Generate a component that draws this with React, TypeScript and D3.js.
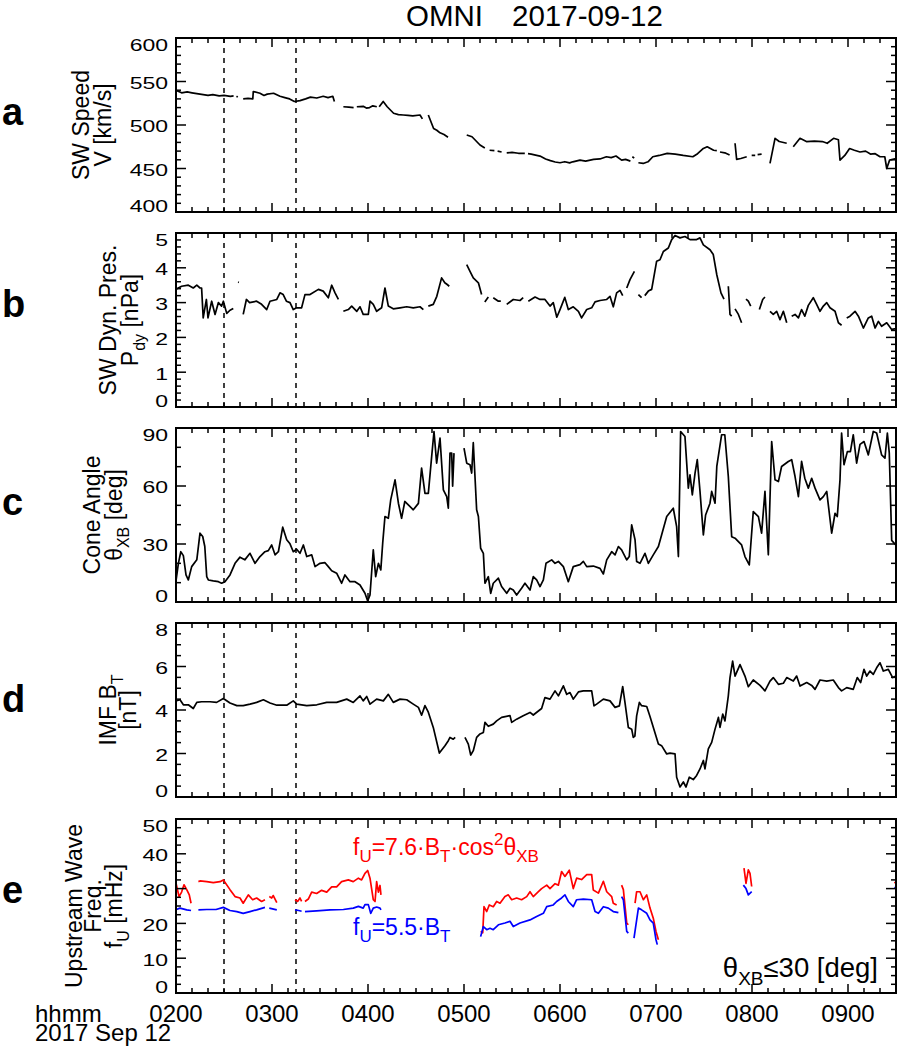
import React from "react";
import * as d3 from "d3";

type Pt = [number, number] | null;

const FONT = "'Liberation Sans', Arial, Helvetica, sans-serif";

// time in minutes since 00:00 UT, 2017-09-12
const TIME_DOMAIN: [number, number] = [120, 570];
const HOUR_TICKS = [120, 180, 240, 300, 360, 420, 480, 540];
const EVENT_TIMES = [150, 195];

// a: SW speed [km/s]
const speedData: Pt[] = [
  [120, 540], [123.5, 537], [127, 538], [130, 537], [135, 535.5], [140, 534], [143, 535], [147, 533.5], [150, 534], [154, 533], [156, 533.5], null,
  [157.8, 533], [158.6, 532], null,
  [162, 530], [165, 530.5], [168, 530], [168.3, 538.5], [172.5, 536.5], [175, 534], [177, 535.5], [181, 536.5], [185, 533], [188, 531.5], [191, 530], [194, 527], [197.5, 528], [201, 530], [204, 532], [208, 531], [212, 533], [215, 531.5], [218, 533], [219, 527], null,
  [224.6, 521], [228, 520.5], [231, 520], null, [233, 521], [237, 521.5], [239, 519.5], [241, 520], [243, 522], [245.5, 521], null, [247, 521], [249.5, 527], [252, 521], [256, 513.5], [259, 512], [262, 511.5], [265, 511], [268, 510.5], [272.5, 511.5], [274, 507], null,
  [277.7, 511.5], [281, 496], [283, 494], [285, 491], [287.5, 489], [290, 486], null,
  [301.7, 488.5], [305, 486.5], [310, 477], [313, 473.5], null, [316, 471], [319, 470.5], null, [321, 470], [323.5, 469], null, [326.7, 468], [330, 468.5], [334, 467.5], [338, 467.5], null, [340, 467], [342, 466.5], [347.5, 464.3], [351, 461], [354, 459], [357, 457.5], [360, 456.6], [363, 457.8], [366, 456.5], [368, 457.7], [372.5, 459.6], [376, 458.5], [381, 460.4], [385, 461], [389, 463.5], [392, 462.5], [395, 464.3], [398.5, 459.6], [401, 460.5], [404, 458.5], null,
  [405.2, 463.5], [406.4, 462], null,
  [409, 456.6], [412, 455.8], [415, 457.7], [418, 463.5], [422, 465], [427, 467.4], [432, 466.5], [437, 465], [443, 463.5], [446, 467], [449.6, 473], [452, 475], [456, 471], [458, 470.5], null, [460, 469], [463, 468], [466, 465.4], null,
  [469.4, 479], [470.4, 460.4], [473, 461.5], [476.7, 463.5], null,
  [479.8, 465], [482, 465], null, [483.5, 466], [486, 466.6], null,
  [491.25, 455.8], [494.4, 484.7], [497, 481], [501.7, 479], null,
  [505.8, 475], [510, 484.7], [514, 481], [519, 481.5], [524, 481], [527, 479], [531, 484.7], [534, 483], [535, 459.6], [538, 465], [541, 473], [544, 471], [547.5, 469], [551, 470], [554, 466.6], [557, 467], [560, 463.5], [563, 463.5], [564.2, 450], [566, 459.6], [570, 461.5],
];

// b: SW dynamic pressure [nPa]
const pdynData: Pt[] = [
  [119.8, 3.38], [123.5, 3.47], [127.7, 3.5], [130.8, 3.42], [133, 3.5], [135, 3.42], [136, 3.42], [137, 2.56], [139, 3.09], [140, 2.56], [142.3, 3.04], [144.4, 2.66], [146.5, 3.0], [148.5, 2.9], [149.6, 3.04], [151.7, 2.69], [153.75, 2.78], [155.8, 2.83], null,
  [158.8, 3.59], [159.3, 3.58], null,
  [162, 2.66], [164, 3.09], [166, 3.0], [170.4, 3.04], [173.5, 2.95], [176.7, 2.8], [178.75, 3.04], [183, 3.09], [185, 3.28], [187, 3.23], [189, 3.04], [191.25, 3.0], [193.3, 2.8], [195.4, 2.85], [198.5, 2.85], [200.6, 3.23], [203.75, 3.23], [209, 3.38], [212, 3.33], [215.2, 3.14], [217.3, 3.5], [219.4, 3.28], [221.5, 3.09], null,
  [224.6, 2.75], [227.7, 2.8], [229.8, 2.9], [233, 2.75], [235, 2.88], [237, 2.66], [240.2, 2.66], [241.25, 3.04], [243.3, 2.95], [245.4, 2.75], [248.5, 2.85], [250.6, 3.42], [252.7, 2.9], [255.8, 2.82], [260, 2.85], [264.2, 2.88], [268.3, 2.85], [272.5, 2.88], [274.6, 2.8], null,
  [277.7, 2.9], [280.8, 2.95], [283, 3.18], [286, 3.71], [288, 3.57], [289.5, 3.52], [290.8, 3.47], null,
  [301.7, 4.09], [303.75, 3.9], [305.8, 3.71], [309, 3.57], [311, 3.23], null,
  [313, 3.02], [315.2, 3.16], null, [318.3, 3.14], [321.5, 3.04], [323, 3.04], null,
  [326.7, 2.95], [330.8, 3.09], [335, 3.06], [337, 3.14], null,
  [340.2, 3.04], [344.4, 3.16], [347.5, 3.09], [350.6, 3.09], [353.75, 2.9], [355.8, 3.0], [358, 2.58], [360, 2.8], [363, 3.15], [365.2, 2.8], [368.3, 2.88], [371.5, 2.75], [373.5, 2.56], [376.7, 2.8], [379.8, 2.85], [381.9, 3.02], [385, 3.06], [389.2, 3.09], [391.25, 3.18], [393.3, 2.88], [395.4, 3.28], [397.5, 3.35], [399.2, 3.2], null,
  [401.7, 3.42], [403.75, 3.66], [406.5, 3.9], null,
  [409, 3.23], [411, 3.14], null,
  [413, 3.2], [415.2, 3.33], [417.3, 3.38], [420.4, 4.19], [422.5, 4.23], [424.6, 4.47], [427.7, 4.57], [429.8, 4.81], [431.9, 4.93], [435, 4.86], [438.1, 4.9], [441.25, 4.81], [445.4, 4.81], [447.5, 4.86], [449.6, 4.66], [453.75, 4.52], [455.8, 4.38], [458, 3.8], [460.6, 3.28], [462.5, 3.1], null,
  [465.2, 3.47], [466.25, 2.66], [467.3, 2.61], null,
  [469.4, 2.82], [471.5, 2.66], [473.5, 2.42], null,
  [476.25, 3.1], [477.7, 3.04], [479.2, 2.9], null,
  [484.6, 2.8], [486.7, 3.09], [488.1, 3.16], null,
  [491.25, 2.75], [493.3, 2.66], [495.4, 2.75], [497.5, 2.51], [499.6, 2.75], [501.7, 2.42], null,
  [504.8, 2.61], [506.9, 2.66], [509, 2.56], [511, 2.8], [513, 2.61], [515.2, 2.92], [518.3, 3.14], [520.4, 2.95], [522.5, 2.75], [524.6, 2.9], [526.7, 3.0], [528.75, 2.85], [531.9, 2.75], [534, 2.42], [536, 2.35], null,
  [539.2, 2.56], [541.25, 2.61], [544.4, 2.75], [546.5, 2.61], [549.6, 2.27], [552.7, 2.56], [554.8, 2.61], [556.9, 2.27], [559, 2.46], [561, 2.32], [564.2, 2.42], [567.3, 2.23], [570, 2.25],
];

// c: cone angle theta_XB [deg]
const coneData: Pt[] = [
  [119.8, 9.7], [121.5, 20], [123, 26], [124.6, 24], [126.25, 14], [127.7, 11.4], [129.8, 18.3], [133, 21.8], [135, 35.6], [136.7, 33.9], [138, 28.7], [139.2, 13.1], [140.2, 11.4], [143.3, 10.9], [146.5, 10.5], [148.5, 9.7], [150.6, 10.5], [153.75, 14], [156.9, 20], [160, 23.2], [163, 21.8], [166.25, 25.2], [169.4, 20], [172.5, 23.5], [175.6, 26], [177.7, 26.6], [179.8, 29.5], [181.9, 24.4], [184, 26], [186.7, 38.7], [189.2, 32.2], [191.25, 30.1], [193.3, 26], [195.4, 27.3], [197.5, 25.2], [199.6, 29.5], [201.7, 23.5], [204.8, 24.4], [206.9, 18.3], [210, 20], [213, 20.4], [215.2, 18.3], [217.3, 16.2], [220.4, 14.9], [223.5, 9.7], [225.6, 14], [228.75, 10.5], [231.9, 10.5], [235, 8.8], [238.1, 4.5], [239.8, 0.5], [241.25, 3.7], [243.3, 27], [244.8, 13.1], [246.5, 20], [248, 16.6], [249.2, 30.6], [250.6, 44.2], [252.7, 43.3], [254.2, 52.8], [256.9, 63.2], [259, 51.1], [261, 43.3], [263, 52], [265.2, 50.2], [268.3, 47.7], [271.5, 51], [273.5, 69.3], [275.6, 56.2], [277.7, 56.2], [279.8, 75.3], [281.25, 88.2], [282.9, 71.8], [285, 84.8], [287.1, 58], [289.2, 54.5], [290.2, 48.5], [291.25, 77], [292.3, 77], [292.9, 59.9], [293.75, 77], null,
  [300, 79.6], [301.7, 71.8], [303.75, 71], [304.8, 66.7], [305.8, 82.4], [307.9, 47.7], [309, 44.2], [310.4, 27.8], [312.1, 25.2], [313.1, 9.7], [315.2, 13.1], [316.7, 4.5], [318.3, 9.7], [321.5, 12.3], [323.5, 8], [326.7, 4.5], [328.75, 7.1], [330.8, 6.2], [332.9, 3.6], [336, 7.1], [338.1, 9.7], [341.25, 6.2], [343.3, 13.1], [345.4, 11.4], [347.5, 8], [349.6, 11.4], [351.25, 20], [354.8, 21.8], [356.9, 20], [359, 21], [362.1, 18.3], [365.2, 10.5], [368.3, 18.3], [372.5, 19.3], [374.6, 21], [376.7, 18.3], [380.8, 18.6], [385, 17.4], [387.1, 14.5], [389.2, 21.8], [392.3, 26], [394.4, 24.4], [396.5, 28.7], [398.5, 27], [401.7, 21.8], [403.3, 23.5], [404.8, 39.9], [406.9, 32.2], [407.9, 21], [410, 20], [413.1, 25.2], [415.2, 20], [418.3, 24.4], [421.5, 28.7], [423.5, 34.7], [426.7, 44.2], [430.8, 48.5], [432.9, 39], [434, 23.5], [435.4, 88.2], [438.1, 85.6], [440.2, 58.9], [441.25, 65.8], [442.7, 55.4], [444.4, 66.7], [445.8, 73.6], [447.5, 57.2], [449.6, 34.7], [451, 45], [453.75, 51.1], [454.8, 57.2], [456.9, 51.1], [458, 70.1], [461, 86.5], [463, 86.5], [465.2, 64.9], [467.3, 33.8], [469.4, 33], [471.5, 31.2], [473.5, 29.5], [475.6, 23.5], [478.3, 19.2], [480.8, 46.8], [484, 44.2], [486, 35.6], [488.1, 57.2], [490.2, 24.4], [492.3, 83], [494.4, 63.2], [496.5, 62.3], [498.5, 70.1], [502.7, 72.7], [504.8, 73.6], [506.9, 64.9], [509, 54.5], [511, 72.7], [513, 64], [515.2, 58.9], [517.3, 64], [519.4, 58.9], [522.5, 52.8], [524.6, 54.5], [526.7, 57.2], [529.8, 35.6], [531.9, 45.9], [533.3, 44.2], [535, 63.2], [536, 87.4], [537.5, 71], [539.6, 77.8], [541.5, 77.8], [543.3, 86.5], [545.4, 71.8], [547.5, 81.5], [550, 83], [552.7, 76.1], [555.8, 88.2], [557.9, 87.4], [561, 76.1], [563.1, 74.4], [564.6, 87.4], [565.8, 77], [567.3, 31.9], [570, 29.4],
];

// d: IMF |B| [nT]
const btData: Pt[] = [
  [119.8, 4.42], [122.5, 4.47], [124.6, 4.24], [127.7, 4.24], [130.8, 4.07], [133, 4.35], [136, 4.38], [141.25, 4.38], [145.4, 4.35], [149.6, 4.53], [153.75, 4.32], [158, 4.2], [162, 4.2], [166.25, 4.27], [170.4, 4.35], [174.6, 4.47], [178.75, 4.32], [183, 4.22], [189.2, 4.22], [193.3, 4.42], [195.4, 4.27], [201.7, 4.2], [208, 4.24], [214.2, 4.35], [220.4, 4.35], [226.7, 4.5], [230.8, 4.35], [235, 4.65], [237, 4.42], [239.2, 4.62], [241.25, 4.27], [245.4, 4.5], [249.6, 4.42], [252.7, 4.72], [255.8, 4.35], [260, 4.5], [264.2, 4.47], [268.3, 4.27], [271.5, 4.12], [273.5, 3.76], [275.6, 4.2], [277.7, 3.9], [280.8, 3.2], [284.6, 2.02], [288.1, 2.36], [290.2, 2.59], [291.25, 2.74], [293.3, 2.66], [294.5, 2.74], null,
  [300.6, 2.74], [302.7, 2.43], [304.2, 1.93], [305.8, 2.13], [307.9, 2.74], [310, 2.9], [312.1, 2.97], [313.1, 3.43], [315.2, 3.25], [318.3, 3.35], [320.4, 3.5], [323.5, 3.66], [328.75, 3.74], [329.8, 3.43], [332.9, 3.58], [337, 3.74], [341.25, 3.89], [343.3, 3.77], [348.5, 4.07], [350.6, 4.57], [353.75, 4.5], [356.9, 4.88], [359, 4.65], [362.1, 5.11], [364.2, 4.72], [366.25, 4.8], [368.3, 4.5], [371.5, 4.83], [374.6, 4.88], [379.8, 4.88], [381.25, 4.19], [382.9, 4.27], [387.1, 4.5], [391.25, 4.42], [394.4, 4.12], [397.1, 4.19], [399.2, 5.08], [400.6, 4.35], [402.7, 3.2], [404.8, 3.12], [405.8, 2.74], [406.8, 2.8], [407.9, 3.73], [409.6, 4.35], [411, 4.2], [414.2, 4.16], [416.25, 3.7], [418.3, 3.21], [421.5, 2.44], [423.5, 2.36], [426.7, 1.98], [428.75, 2.02], [431.9, 1.98], [432.9, 0.91], [435, 0.46], [437.1, 0.69], [438.75, 0.46], [440.8, 0.91], [443.3, 0.8], [445.4, 0.99], [447.5, 1.29], [449.6, 1.68], [450.6, 1.29], [452.7, 2.21], [454.8, 2.51], [456.9, 3.12], [459, 3.66], [460, 3.2], [461.7, 3.81], [463.1, 3.5], [465.2, 4.65], [466.25, 5.49], [467.9, 6.25], [469.4, 5.56], [472.5, 6.09], [475.6, 5.56], [477.7, 5.07], [480.8, 5.38], [485, 5.13], [488.1, 4.88], [491.25, 5.33], [493.3, 5.49], [496.5, 5.18], [499.6, 5.23], [501.7, 5.49], [505.8, 5.33], [507.9, 5.56], [510, 5.1], [514.2, 5.26], [517.3, 5.13], [519.4, 4.95], [522.5, 5.38], [526.7, 5.33], [530.8, 5.38], [534, 5.03], [536, 4.88], [539.2, 5.03], [543.3, 4.95], [545.8, 5.49], [547.9, 5.26], [550, 5.87], [551.7, 5.56], [553.75, 5.79], [555.8, 5.64], [557.9, 5.94], [560, 6.17], [562.1, 5.79], [565.2, 5.87], [567.9, 5.49], [570, 5.56],
];

// e: upstream wave frequency [mHz], only where theta_XB <= 30 deg
const fuConeData: Pt[] = [
  [119.8, 32], [121.9, 27.7], [123.5, 29], [125, 31.1], [126.7, 29.7], [128.3, 28.2], [129.4, 25.8], null,
  [134, 32], [135, 32.2], [139.2, 32], [143.3, 31.7], [147.5, 32], [149.6, 32.5], [153.75, 29.7], [156.9, 27.7], [160, 27.3], [162, 25.8], [165.2, 28.2], [167.9, 26.8], [170.4, 27.3], [173.5, 26.3], [175.6, 26.8], null,
  [178.3, 27.7], [179.8, 27.3], [180.8, 28], [183, 26], null,
  [194.4, 26.8], [196, 26.3], [197.5, 27.3], [198.5, 26.3], null,
  [200.6, 26.3], [202.7, 27], [204.8, 29], [207.9, 28.6], [211, 29.5], [214.2, 29], [217.3, 30.5], [220.4, 30.5], [223.5, 32], [227.7, 32.5], [230.8, 32], [234, 33], [236, 32.5], [238.1, 34.4], [239.8, 35.2], [241.25, 33], [243.3, 26.8], [244.4, 26.3], [245.4, 32], [246.5, 29], [247.5, 30.9], [248.1, 28.2], null,
  [310.4, 17.7], [311.7, 17.3], [312.5, 24.8], [314.2, 23.4], [315.8, 25.3], [318.3, 24.8], [320.4, 26.3], [322.5, 25.8], [325.6, 27.7], [327.7, 28.2], [329.8, 26.8], [332.9, 27.3], [336, 26.8], [339.2, 27.7], [341.25, 29.1], [343.3, 27.7], [346.5, 29.1], [348.5, 30], [351.7, 31], [353.75, 30], [356.9, 31.4], [359, 31], [361, 34.9], [363.1, 33.5], [365.8, 35.3], [368.3, 30], [370.4, 33], [373.5, 32.6], [376.7, 34], [379.8, 34], [380.8, 29.6], [384, 28.7], [387.1, 32.1], [389.2, 29.1], [392.3, 27.7], [393.3, 25.8], [395.4, 25.3], null,
  [398.5, 31], [399.6, 29.7], [401.7, 20.1], [402.7, 19.6], null,
  [406.9, 25.8], [407.9, 29.1], [410, 29.1], [412.1, 26.8], [414.2, 28.2], [416.25, 24.4], [418.3, 21.5], [420, 17.7], [421.5, 15.3], null,
  [475, 35.9], [476.25, 31.5], [477.7, 35.4], [478.75, 34.4], [479.8, 30.6], null,
  [569, 31.6], [570, 32],
];

const fuBtData: Pt[] = [
  [119.8, 23.9], [122.5, 24.4], [126.7, 23.9], [129.4, 23.7], null,
  [134, 23.9], [139.2, 24], [145, 24], [149.6, 24.6], [153.75, 23.7], [158, 23.4], [162, 22.9], [166.25, 23.4], [170.4, 23.9], [175.6, 24.6], null,
  [178.3, 24.4], [183, 23.9], null,
  [194.4, 23.9], [196.7, 23.7], [198.5, 23.5], null,
  [200.6, 23.4], [207.9, 23.6], [216.25, 23.9], [224.6, 24], [230.8, 24.4], [234, 24.9], [237, 24.4], [238.1, 25.4], [240.2, 25.4], [241.7, 22.9], [243.3, 24.4], [245.4, 24.7], [247.5, 24.4], [248.1, 23.9], null,
  [310.4, 16.2], [312.1, 19.1], [314.2, 18.2], [316.25, 18.6], [318.3, 18.2], [321.5, 19.6], [325.6, 20.1], [328.75, 20.6], [330.8, 19.1], [335, 20.1], [341.25, 21], [345.4, 22], [349.6, 22.9], [351.7, 24.8], [355.8, 25.3], [357.9, 26.3], [361, 27.3], [363.1, 28.2], [365.2, 26.3], [368.3, 24.8], [370.4, 26.8], [374.6, 27], [379.8, 26.8], [381.9, 23.4], [384, 22.9], [387.1, 24.8], [390.2, 24.4], [393.3, 23.4], [396.5, 23.1], null,
  [398.5, 27.7], [399.6, 26.8], [401.7, 17.7], [402.7, 17.2], null,
  [406.25, 15.8], [409, 24.4], [411, 23.9], [414.2, 22.9], [416.25, 21], [418.3, 20.1], [420, 15.3], [420.8, 13.9], null,
  [474.6, 31], [476.25, 30], [477.7, 28.2], [479.8, 29.1], null,
  [569, 30.2], [570, 30.4],
];

const PANEL_LETTERS = ["a", "b", "c", "d", "e"];
const Y_DOMAINS: [number, number][] = [[400, 600], [0, 5], [0, 90], [0, 8], [0, 50]];
const Y_MAJOR = [50, 1, 30, 2, 10];
const Y_MINOR = [10, 0.2, 10, 0.5, 2.5];

// layout
const W = 898, H = 1053;
const L = 176, R = 896;
const PANEL_TOPS = [38, 233, 428, 623, 819];
const PH = 174;
const LETTER_BASE = [125, 317, 515, 712, 903];

type Part = [string, "n" | "sub" | "sup"];

function rich(parts: Part[], size: number, subSize: number) {
  let cur = 0;
  return parts.map(([t, kind], i) => {
    const target = kind === "sub" ? size * 0.3 : kind === "sup" ? -size * 0.42 : 0;
    const dy = target - cur;
    cur = target;
    return (
      <tspan key={i} dy={dy} fontSize={kind === "n" ? size : subSize}>
        {t}
      </tspan>
    );
  });
}

const Y_TITLES: { x: number; parts: Part[] }[][] = [
  [
    { x: 89, parts: [["SW Speed", "n"]] },
    { x: 111, parts: [["V [km/s]", "n"]] },
  ],
  [
    { x: 116, parts: [["SW Dyn. Pres.", "n"]] },
    { x: 138, parts: [["P", "n"], ["dy", "sub"], [" [nPa]", "n"]] },
  ],
  [
    { x: 100, parts: [["Cone Angle", "n"]] },
    { x: 122, parts: [["θ", "n"], ["XB", "sub"], [" [deg]", "n"]] },
  ],
  [
    { x: 116, parts: [["IMF B", "n"], ["T", "sub"]] },
    { x: 136, parts: [["[nT]", "n"]] },
  ],
  [
    { x: 82, parts: [["Upstream Wave", "n"]] },
    { x: 101, parts: [["Freq.", "n"]] },
    { x: 122, parts: [["f", "n"], ["U", "sub"], [" [mHz]", "n"]] },
  ],
];

function steps(lo: number, hi: number, step: number) {
  const n = Math.round((hi - lo) / step);
  return d3.range(0, n + 1).map((i) => +(lo + i * step).toFixed(6));
}

function fmtHHMM(m: number) {
  const h = Math.floor(m / 60);
  return `${String(h).padStart(2, "0")}00`;
}

export default function App() {
  const x = d3.scaleLinear().domain(TIME_DOMAIN).range([L, R]);
  const seriesByPanel: { data: Pt[]; color: string }[][] = [
    [{ data: speedData, color: "#000" }],
    [{ data: pdynData, color: "#000" }],
    [{ data: coneData, color: "#000" }],
    [{ data: btData, color: "#000" }],
    [
      { data: fuConeData, color: "#ff0000" },
      { data: fuBtData, color: "#0000ff" },
    ],
  ];
  const minorX = steps(TIME_DOMAIN[0], TIME_DOMAIN[1], 10).filter((t) => (t - 120) % 60 !== 0);

  return (
    <svg
      width={W}
      height={H}
      style={{ position: "absolute", left: 0, top: 0, background: "#fff" }}
      fontFamily={FONT}
    >
      <rect x={0} y={0} width={W} height={H} fill="#fff" />
      <text x={406} y={26} fontSize={29.5} fill="#000">OMNI</text>
      <text x={512} y={26} fontSize={29.5} fill="#000">2017-09-12</text>

      {PANEL_TOPS.map((top, i) => {
        const bottom = top + PH;
        const [lo, hi] = Y_DOMAINS[i];
        const y = d3.scaleLinear().domain([lo, hi]).range([bottom, top]);
        const line = d3
          .line<Pt>()
          .defined((d) => d !== null)
          .x((d) => x((d as [number, number])[0]))
          .y((d) => y((d as [number, number])[1]));
        const majorY = steps(lo, hi, Y_MAJOR[i]);
        const minorY = steps(lo, hi, Y_MINOR[i]).filter(
          (v) => Math.abs(v / Y_MAJOR[i] - Math.round(v / Y_MAJOR[i])) > 1e-6
        );
        const cy = top + PH / 2;
        return (
          <g key={i}>
            <defs>
              <clipPath id={`clip${i}`}>
                <rect x={L} y={top} width={R - L} height={PH} />
              </clipPath>
            </defs>
            {EVENT_TIMES.map((t) => (
              <line
                key={t}
                x1={x(t)}
                x2={x(t)}
                y1={top}
                y2={bottom}
                stroke="#000"
                strokeWidth={1.5}
                strokeDasharray="5,5"
              />
            ))}
            <g clipPath={`url(#clip${i})`}>
              {seriesByPanel[i].map((s, k) => (
                <path
                  key={k}
                  d={line(s.data) || ""}
                  fill="none"
                  stroke={s.color}
                  strokeWidth={1.7}
                  strokeLinejoin="round"
                />
              ))}
            </g>
            {/* x ticks */}
            {HOUR_TICKS.map((t) => (
              <g key={`M${t}`} stroke="#000" strokeWidth={1.5}>
                <line x1={x(t)} x2={x(t)} y1={top} y2={top + 9} />
                <line x1={x(t)} x2={x(t)} y1={bottom} y2={bottom - 9} />
              </g>
            ))}
            {minorX.map((t) => (
              <g key={`m${t}`} stroke="#000" strokeWidth={1.5}>
                <line x1={x(t)} x2={x(t)} y1={top} y2={top + 5} />
                <line x1={x(t)} x2={x(t)} y1={bottom} y2={bottom - 5} />
              </g>
            ))}
            {/* y ticks */}
            {majorY.map((v) => (
              <g key={`Y${v}`} stroke="#000" strokeWidth={1.5}>
                <line x1={L} x2={L + 10} y1={y(v)} y2={y(v)} />
                <line x1={R} x2={R - 10} y1={y(v)} y2={y(v)} />
              </g>
            ))}
            {minorY.map((v) => (
              <g key={`y${v}`} stroke="#000" strokeWidth={1.5}>
                <line x1={L} x2={L + 5} y1={y(v)} y2={y(v)} />
                <line x1={R} x2={R - 5} y1={y(v)} y2={y(v)} />
              </g>
            ))}
            <rect x={L} y={top} width={R - L} height={PH} fill="none" stroke="#000" strokeWidth={2} />
            {/* y tick labels */}
            {majorY.map((v) => {
              const c = Math.min(Math.max(y(v) + 1.5, top + 7), bottom - 6);
              return (
                <text
                  key={`yl${v}`}
                  transform={`translate(168,${c + 5.9}) scale(1,0.72)`}
                  textAnchor="end"
                  fontSize={23}
                  fill="#000"
                >
                  {String(v)}
                </text>
              );
            })}
            {/* y titles */}
            {Y_TITLES[i].map((ln, k) => (
              <text
                key={`t${k}`}
                transform={`translate(${ln.x},${cy}) rotate(-90)`}
                textAnchor="middle"
                fontSize={23}
                fill="#000"
              >
                {rich(ln.parts, 23, 16)}
              </text>
            ))}
            <text x={2} y={LETTER_BASE[i]} fontSize={38} fontWeight="bold" fill="#000">
              {PANEL_LETTERS[i]}
            </text>
          </g>
        );
      })}

      {/* panel e annotations */}
      <text x={353} y={855} fill="#ff0000" fontSize={23}>
        {rich(
          [["f", "n"], ["U", "sub"], ["=7.6·B", "n"], ["T", "sub"], ["·cos", "n"], ["2", "sup"], ["θ", "n"], ["XB", "sub"]],
          23,
          17
        )}
      </text>
      <text x={353} y={935} fill="#0000ff" fontSize={23}>
        {rich([["f", "n"], ["U", "sub"], ["=5.5·B", "n"], ["T", "sub"]], 23, 17)}
      </text>
      <text x={878} y={977} fill="#000" fontSize={27.5} textAnchor="end">
        {rich([["θ", "n"], ["XB", "sub"], ["≤30 [deg]", "n"]], 27.5, 19)}
      </text>

      {/* x tick labels */}
      {HOUR_TICKS.map((t) => (
        <text key={`xl${t}`} x={x(t)} y={1022} textAnchor="middle" fontSize={24} fill="#000">
          {fmtHHMM(t)}
        </text>
      ))}
      <text x={35} y={1022} fontSize={24} fill="#000">hhmm</text>
      <text x={35} y={1041} fontSize={24} fill="#000">2017 Sep 12</text>
    </svg>
  );
}
